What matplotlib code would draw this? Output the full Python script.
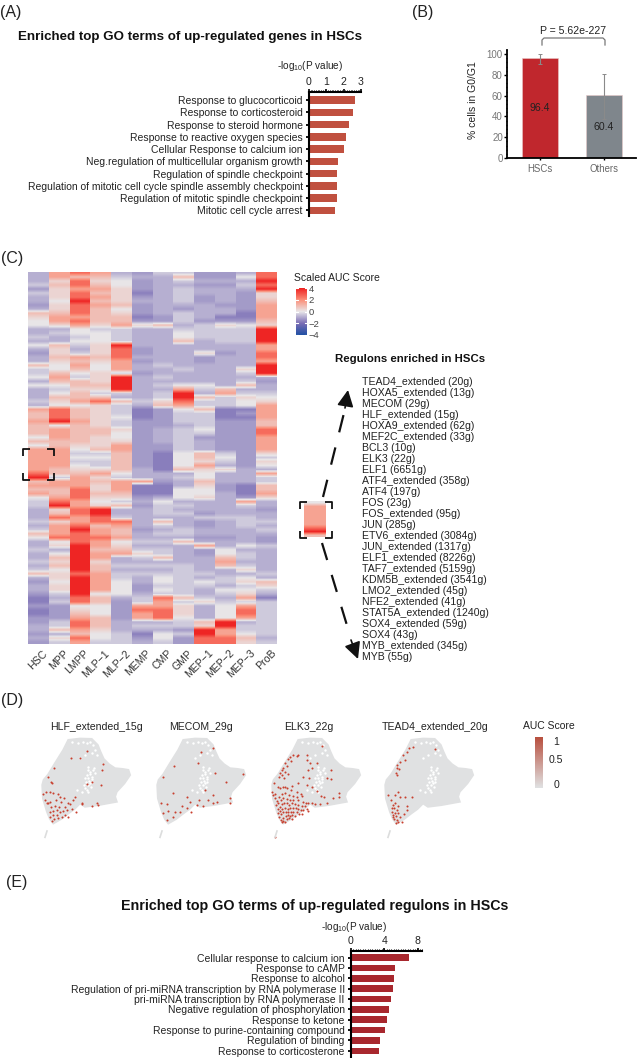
"""
Regulon figure for HSCs: GO bars, G0/G1 bars, AUC heatmap, UMAP panels.
"""

import matplotlib
matplotlib.use("Agg")
import matplotlib.pyplot as plt
import numpy as np
from matplotlib.colors import LinearSegmentedColormap
from matplotlib.ticker import MultipleLocator
from matplotlib.transforms import ScaledTranslation

plt.rcParams["font.family"] = ["Liberation Sans", "DejaVu Sans"]
plt.rcParams["mathtext.default"] = "regular"

W, H = 638, 1058
TXT = "#222222"

go_genes_terms = [
    "Response to glucocorticoid", "Response to corticosteroid", "Response to steroid hormone",
    "Response to reactive oxygen species", "Cellular Response to calcium ion",
    "Neg.regulation of multicellular organism growth", "Regulation of spindle checkpoint",
    "Regulation of mitotic cell cycle spindle assembly checkpoint",
    "Regulation of mitotic spindle checkpoint", "Mitotic cell cycle arrest",
]
go_genes_vals = [2.67, 2.53, 2.32, 2.11, 2.01, 1.70, 1.60, 1.60, 1.60, 1.51]

go_regulon_terms = [
    "Cellular response to calcium ion", "Response to cAMP", "Response to alcohol",
    "Regulation of pri-miRNA transcription by RNA polymerase II",
    "pri-miRNA transcription by RNA polymerase II", "Negative regulation of phosphorylation",
    "Response to ketone", "Response to purine-containing compound", "Regulation of binding",
    "Response to corticosterone",
]
go_regulon_vals = [7.0, 5.3, 5.2, 5.0, 4.8, 4.6, 4.25, 4.1, 3.5, 3.4]

cycle_groups = ["HSCs", "Others"]
cycle_vals = [96.4, 60.4]
cycle_err_low = [90.5, 38.0]
cycle_err_high = [100.0, 80.6]

cell_types = ["HSC", "MPP", "LMPP", "MLP\u22121", "MLP\u22122", "MEMP", "CMP", "GMP",
              "MEP\u22121", "MEP\u22122", "MEP\u22123", "ProB"]

# heatmap cells as colour levels 0-9, one string per row, see heat_levels
heat_levels = np.array([-1.7, -1.25, -0.9, -0.45, 0.0, 0.4, 0.9, 1.5, 2.6, 3.9])
heat_rows = [
    "278721331128", "276632261148", "258541232229", "368641221138",
    "157751232229", "358650232215", "258751231215", "249652231216",
    "158761222117", "258641212217", "668651232207", "577660132007",
    "478661131116", "457575623545", "224332233339", "234432243339",
    "323432243339", "224432262339", "463592222227", "252581222227",
    "153581225128", "267682221228", "256571221227", "647472322229",
    "346472232259", "364531222239", "473592322222", "266592222231",
    "446692344262", "235592273622", "246332392733", "266622396354",
    "357863583345", "244532673347", "786530146007", "686530133017",
    "686540133007", "797531133116", "646531123116", "676651234118",
    "676641233118", "476541231117", "666551232117", "465571132117",
    "774671132117", "773361046315", "774461046413", "773361045315",
    "774361047214", "765562065522", "866742224227", "937532234223",
    "677677126223", "777570025106", "668570044106", "768660044207",
    "478551245215", "387432422272", "397561332232", "258922322221",
    "268922331222", "287832223332", "357882621233", "278672321232",
    "379761232223", "678762332222", "488872221121", "248743362221",
    "259752227243", "329663321422", "249775321432", "269723622632",
    "359522222722", "269633332632", "349622232252", "658733333223",
    "259732432342", "149742434356", "259741333235", "259741432443",
    "139442332352", "028623863270", "038613735333", "114417752473",
    "015418852483", "016417852483", "117617842473", "138622236923",
    "238623335933", "267522219733", "126430439743", "258431418862",
    "137332318853",
]

regulons = [
    "TEAD4_extended (20g)", "HOXA5_extended (13g)", "MECOM (29g)", "HLF_extended (15g)",
    "HOXA9_extended (62g)", "MEF2C_extended (33g)", "BCL3 (10g)", "ELK3 (22g)", "ELF1 (6651g)",
    "ATF4_extended (358g)", "ATF4 (197g)", "FOS (23g)", "FOS_extended (95g)", "JUN (285g)",
    "ETV6_extended (3084g)", "JUN_extended (1317g)", "ELF1_extended (8226g)",
    "TAF7_extended (5159g)", "KDM5B_extended (3541g)", "LMO2_extended (45g)",
    "NFE2_extended (41g)", "STAT5A_extended (1240g)", "SOX4_extended (59g)", "SOX4 (43g)",
    "MYB_extended (345g)", "MYB (55g)",
]

umap_titles = ["HLF_extended_15g", "MECOM_29g", "ELK3_22g", "TEAD4_extended_20g"]

umap_outline_x = [100, 135, 170, 188, 196, 206, 222, 240, 262, 280, 285, 268, 245, 240, 245, 190, 150, 135, 118,
                  100, 78, 55, 45, 36, 24, 22, 26, 40, 60, 85]
umap_outline_y = [15, 11, 12, 30, 50, 72, 88, 100, 102, 105, 120, 145, 170, 185, 200, 210, 215, 205, 222,
                  235, 252, 265, 252, 230, 190, 150, 135, 118, 85, 45]
umap_stray_x = [30, 36]
umap_stray_y = [307, 288]
umap_hole_x = [165, 160, 170, 150, 155, 165, 175, 180, 150, 160, 170, 158, 165, 172, 152, 162, 168, 176, 155,
               160, 148, 130, 145, 155, 165, 175, 180, 170, 135, 150, 185, 125, 140, 158, 110]
umap_hole_y = [110, 130, 125, 130, 120, 145, 105, 115, 160, 150, 140, 105, 118, 132, 140, 138, 155, 98, 165,
               95, 150, 25, 20, 25, 20, 30, 45, 55, 70, 60, 60, 165, 170, 172, 20]

hlf_x = [155, 108, 135, 57, 205, 200, 38, 48, 52, 25, 33, 45, 155, 198, 170, 30, 40, 45, 35, 55, 75, 70, 62,
         78, 88, 100, 115, 120, 140, 105, 90, 72, 60, 48, 45, 55, 65, 75, 85, 95, 80, 58, 52, 70, 110, 122,
         100, 90, 140, 170, 185, 188, 55, 45, 65]
hlf_y = [47, 68, 70, 100, 88, 105, 125, 142, 144, 176, 172, 170, 147, 150, 140, 195, 205, 200, 205, 175, 185,
         178, 195, 200, 190, 205, 195, 185, 205, 208, 215, 215, 212, 215, 232, 228, 240, 232, 228, 225, 245,
         252, 258, 250, 222, 232, 245, 240, 208, 212, 205, 210, 240, 245, 225]

mecom_x = [190, 152, 145, 72, 40, 195, 228, 280, 165, 68, 190, 110, 147, 33, 52, 120, 175, 200, 240, 240, 160,
           110, 90, 70, 50, 75, 122, 95, 55, 40, 140, 190]
mecom_y = [40, 50, 83, 93, 125, 113, 140, 118, 165, 175, 180, 185, 195, 203, 207, 200, 195, 200, 190, 205, 213,
           220, 230, 245, 255, 230, 230, 213, 227, 235, 210, 205]

elk3_x = [75, 85, 95, 100, 70, 78, 60, 65, 55, 50, 60, 45, 52, 68, 42, 58, 27, 60, 125, 127, 170, 135, 155, 128,
          140, 197, 113, 133, 185, 198, 100, 125, 140, 155, 168, 176, 205, 222, 222, 185, 165, 150, 140,
          22, 25, 30, 38, 45, 55, 65, 80, 78, 95, 108, 112, 30, 35, 42, 50, 60, 72, 85, 95, 33, 40, 48, 55, 65,
          75, 85, 100, 115, 122, 130,
          40, 45, 50, 58, 65, 72, 80, 90, 100, 110, 120, 125, 130,
          38, 45, 52, 60, 68, 76, 84, 92, 100, 108, 115,
          42, 48, 55, 62, 70, 78, 85, 95, 103, 110,
          48, 55, 62, 68, 75, 82, 90, 55, 65, 72, 80, 60, 52, 30]
elk3_y = [65, 60, 62, 60, 72, 78, 85, 92, 98, 105, 110, 115, 120, 118, 125, 130, 145, 155, 60, 75, 32, 85, 85, 105,
          100, 105, 125, 130, 130, 132, 145, 150, 155, 168, 183, 187, 190, 173, 185, 205, 208, 208, 205,
          170, 180, 178, 155, 160, 155, 160, 152, 165, 170, 178, 183, 190, 197, 185, 178, 175, 180, 182, 185, 210,
          205, 195, 190, 192, 195, 195, 195, 200, 205, 205,
          222, 215, 208, 205, 205, 210, 205, 208, 210, 212, 212, 222, 228,
          235, 228, 222, 218, 222, 220, 218, 220, 222, 226, 225,
          245, 238, 232, 230, 232, 230, 230, 232, 236, 238,
          255, 248, 242, 240, 243, 240, 243, 258, 252, 250, 252, 262, 262, 305]

tead4_x = [104, 94, 86, 76, 81, 66, 58, 56, 63, 54, 58, 171, 59, 31, 51, 66, 38, 101, 81, 88, 51, 44, 61, 41, 48,
           56, 43, 51, 61, 86, 78, 46, 54, 66, 48, 58, 54, 71, 61, 44]
tead4_y = [35, 40, 50, 60, 75, 80, 90, 100, 103, 113, 120, 43, 170, 180, 180, 185, 195, 187, 185, 213, 205, 210,
           213, 220, 220, 225, 230, 233, 233, 225, 237, 240, 243, 245, 253, 255, 263, 260, 260, 245]

auc_ticks = [0, 0.5, 1]


def px_axes(fig, left, top, right, bottom):
    """Axes placed by picture pixels."""
    return fig.add_axes([left / W, 1 - bottom / H, (right - left) / W, (bottom - top) / H])


def go_bars(fig, box, terms, vals, color, xmax, xticks, ylims, bar_h, fontsize):
    ax = px_axes(fig, *box)
    ax.barh(range(len(vals)), vals, height=bar_h, color=color)
    ax.set_xlim(0, xmax)
    ax.set_ylim(*ylims)
    ax.xaxis.tick_top()
    ax.set_xticks(xticks)
    ax.xaxis.set_minor_locator(MultipleLocator(xmax / 30))
    ax.tick_params(axis="x", which="major", length=2.5, width=1.2, pad=1, labelsize=7.6, labelcolor=TXT)
    ax.tick_params(axis="x", which="minor", length=1.2, width=0.7)
    ax.set_yticks(range(len(terms)))
    ax.set_yticklabels(terms, fontsize=fontsize, color=TXT)
    ax.tick_params(axis="y", length=2, width=1.3, pad=2.5)
    for side in ("right", "bottom"):
        ax.spines[side].set_visible(False)
    ax.spines["top"].set_linewidth(1.5)
    ax.spines["left"].set_linewidth(1.5)
    return ax


def corners(ax, left, top, right, bottom, size=7):
    """Black corner marks round a picked part of the heatmap."""
    for x, dx in ((left, size), (right, -size)):
        for y, dy in ((top, size), (bottom, -size)):
            ax.plot([x + dx, x, x], [y, y, y + dy], color="#111111", lw=1.3, solid_capstyle="butt", zorder=6)


def heat_columns(ax, data, cmap):
    """One image per column so rows blend into each other but columns stay sharp."""
    n_rows, n_cols = data.shape
    im = None
    for j in range(n_cols):
        im = ax.imshow(data[:, [j]], extent=(j - 0.5, j + 0.5, n_rows - 0.5, -0.5), aspect="auto", cmap=cmap,
                       vmin=-4, vmax=4, interpolation="bilinear")
    ax.set_xlim(-0.5, n_cols - 0.5)
    ax.set_ylim(n_rows - 0.5, -0.5)
    return im


fig = plt.figure(figsize=(W / 100, H / 100), dpi=100)

overlay = fig.add_axes([0, 0, 1, 1], zorder=10)
overlay.set_xlim(0, W)
overlay.set_ylim(H, 0)
overlay.axis("off")

for label, x, y in [("(A)", 0, 12), ("(B)", 412, 12), ("(C)", 1, 259), ("(D)", 1, 701), ("(E)", 6, 882)]:
    overlay.text(x, y, label, fontsize=11.5, color=TXT, va="center")

# (A)
overlay.text(18, 37, "Enriched top GO terms of up-regulated genes in HSCs", fontsize=9.6, fontweight="bold",
             color="#111111", va="center")
overlay.text(310, 66, r"-log$_{10}$(P value)", fontsize=7.2, color=TXT, ha="center", va="center")
go_bars(fig, (309, 92, 361, 216), go_genes_terms, go_genes_vals, "#c0503f", 3, [0, 1, 2, 3],
        (9.45, -0.66), 0.62, 7.5)

# (B)
ax_b = px_axes(fig, 507, 50, 636, 158)
ax_b.bar(range(2), cycle_vals, width=0.567, color=["#c0272d", "#7f868c"], edgecolor="#e8c8c8", linewidth=0.4)
err = np.array([np.array(cycle_vals) - cycle_err_low, np.array(cycle_err_high) - cycle_vals])
ax_b.errorbar(range(2), cycle_vals, yerr=err, fmt="none", ecolor="#8a8a8a", elinewidth=0.8, capsize=1.5,
              capthick=0.7)
ax_b.set_xlim(-0.52, 1.51)
ax_b.set_ylim(0, 104)
ax_b.set_xticks(range(2))
ax_b.set_xticklabels(cycle_groups, fontsize=6.9, color="#666666")
ax_b.set_yticks(range(0, 101, 20))
ax_b.yaxis.set_minor_locator(MultipleLocator(4))
ax_b.tick_params(axis="y", which="major", length=2, width=1, pad=1, labelsize=7, labelcolor="#777777")
ax_b.tick_params(axis="y", which="minor", length=1, width=1)
ax_b.tick_params(axis="x", length=1.5, width=1, pad=3)
for side in ("top", "right"):
    ax_b.spines[side].set_visible(False)
ax_b.spines["left"].set_linewidth(1.3)
ax_b.spines["bottom"].set_linewidth(1.3)
ax_b.text(0, 48, "96.4", ha="center", va="center", fontsize=7.6, color="#222222")
ax_b.text(1, 30, "60.4", ha="center", va="center", fontsize=7.6, color="#222222")
overlay.text(473, 100, "% cells in G0/G1", rotation=90, fontsize=7.5, color=TXT, ha="center", va="center")
overlay.plot([542, 542, 544, 603, 605, 605], [45, 40, 38, 38, 40, 45], color="#777777", lw=0.9)
overlay.text(573, 31, "P = 5.62e-227", fontsize=7.6, color=TXT, ha="center", va="center")

# (C)
heat = heat_levels[np.array([[int(c) for c in row] for row in heat_rows])]
auc_cmap = LinearSegmentedColormap.from_list(
    "auc", ["#1f4fa3", "#7a6db5", "#e8e6e8", "#fb8e78", "#ee2020"])
ax_c = px_axes(fig, 28, 272, 277, 644)
im = heat_columns(ax_c, heat, auc_cmap)
ax_c.set_yticks([])
ax_c.set_xticks(range(len(cell_types)))
ax_c.set_xticklabels(cell_types, rotation=45, ha="right", rotation_mode="anchor", fontsize=7.6, color="#333333")
ax_c.tick_params(axis="x", length=0, pad=3)
shift = ScaledTranslation(4 / 100, 0, fig.dpi_scale_trans)
for tick in ax_c.get_xticklabels():
    tick.set_transform(tick.get_transform() + shift)
for spine in ax_c.spines.values():
    spine.set_visible(False)

overlay.text(294, 278, "Scaled AUC Score", fontsize=7.5, color=TXT, va="center")
cax = px_axes(fig, 296, 288, 307, 335)
cb = fig.colorbar(im, cax=cax)
cb.set_ticks([-4, -2, 0, 2, 4])
cb.set_ticklabels(["\u22124", "\u22122", "0", "2", "4"])
cb.ax.tick_params(labelsize=6.8, length=0, pad=1, labelcolor="#444444")
cb.outline.set_visible(False)
for level in [-4, -2, 0, 2, 4]:
    cb.ax.plot([0, 0.2], [level, level], color="white", lw=0.8, transform=cb.ax.get_yaxis_transform())
    cb.ax.plot([0.8, 1], [level, level], color="white", lw=0.8, transform=cb.ax.get_yaxis_transform())

corners(overlay, 23, 449, 54, 480)
ax_mini = px_axes(fig, 304, 501, 326, 537)
heat_columns(ax_mini, heat[43:53, [0]], auc_cmap)
ax_mini.axis("off")
corners(overlay, 300, 502, 332, 538)

overlay.plot([323, 346], [497, 405], color="#111111", lw=1.6, linestyle=(0, (8, 7)))
overlay.annotate("", xy=(348, 390), xytext=(345, 408),
                 arrowprops=dict(arrowstyle="-|>,head_length=1.0,head_width=0.5", color="#111111", lw=1.2,
                                 shrinkA=0, shrinkB=0))
overlay.plot([322, 349], [543, 632], color="#111111", lw=1.6, linestyle=(0, (8, 7)))
overlay.annotate("", xy=(358, 659), xytext=(351, 640),
                 arrowprops=dict(arrowstyle="-|>,head_length=1.0,head_width=0.5", color="#111111", lw=1.2,
                                 shrinkA=0, shrinkB=0))

overlay.text(335, 359, "Regulons enriched in HSCs", fontsize=8.2, fontweight="bold", color="#111111", va="center")
for i, name in enumerate(regulons):
    overlay.text(362, 382 + 11 * i, name, fontsize=7.6, color=TXT, va="center")

# (D)
umap_points = [(hlf_x, hlf_y), (mecom_x, mecom_y), (elk3_x, elk3_y), (tead4_x, tead4_y)]
umap_left = [35, 150, 265, 378]
umap_title_x = [96, 201, 309, 435]
for name, left, tx, (px, py) in zip(umap_titles, umap_left, umap_title_x, umap_points):
    ax = px_axes(fig, left, 735, left + 110, 845)
    ax.fill(umap_outline_x, umap_outline_y, color="#e0e1e2", lw=1.5)
    ax.plot(umap_stray_x, umap_stray_y, color="#dcdddd", lw=1.2)
    ax.scatter(umap_hole_x, umap_hole_y, s=3, color="white", linewidths=0)
    ax.scatter(px, py, s=2.2, color="#c8402f", linewidths=0)
    ax.set_xlim(0, 330)
    ax.set_ylim(330, 0)
    ax.axis("off")
    overlay.text(tx, 727, name, fontsize=7.6, color=TXT, ha="center", va="center")

overlay.text(549, 726, "AUC Score", fontsize=7.5, color=TXT, ha="center", va="center")
auc_grey = LinearSegmentedColormap.from_list("auc_grey", ["#e0e1e2", "#b8503f"])
ax_cb = px_axes(fig, 535, 737, 543, 788)
ax_cb.imshow(np.linspace(1, 0, 64).reshape(-1, 1), aspect="auto", cmap=auc_grey)
ax_cb.axis("off")
for tick, y in zip(auc_ticks, [785, 760, 742]):
    overlay.text(556, y, str(tick), fontsize=7.6, color=TXT, ha="center", va="center")

# (E)
overlay.text(315, 906, "Enriched top GO terms of up-regulated regulons in HSCs", fontsize=10.3, fontweight="bold",
             color="#111111", ha="center", va="center")
overlay.text(354, 927, r"-log$_{10}$(P value)", fontsize=7.2, color=TXT, ha="center", va="center")
go_bars(fig, (351, 951, 422, 1057), go_regulon_terms, go_regulon_vals, "#a8282e", 8.5, [0, 4, 8],
        (9.6, -0.63), 0.63, 7.5)

fig.savefig("out.png", dpi=100)
plt.close()
